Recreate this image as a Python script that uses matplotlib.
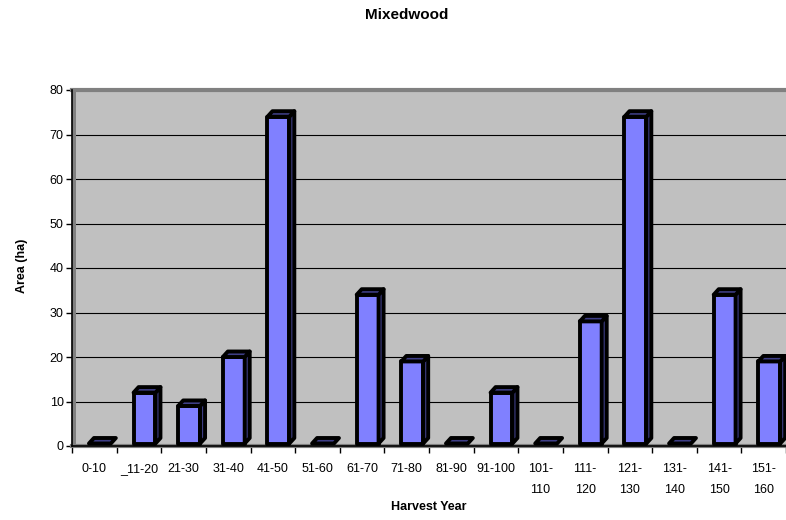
import matplotlib
matplotlib.use("Agg")
import matplotlib.pyplot as plt
from matplotlib.patches import Polygon, Rectangle

plt.rcParams.update({"font.family": ["Liberation Sans", "DejaVu Sans"]})

# ── Datos ────────────────────────────────────────────────────────────────────
clases = ["0-10", "_11-20", "21-30", "31-40", "41-50", "51-60", "61-70",
          "71-80", "81-90", "91-100", "101-\n110", "111-\n120", "121-\n130",
          "131-\n140", "141-\n150", "151-\n160"]
area_ha = [0, 12, 9, 20, 74, 0, 34, 19, 0, 12, 0, 28, 74, 0, 34, 19]

# ── Estilo tipo columna 3D ───────────────────────────────────────────────────
W, H, DPI = 786, 520, 100
X_IZQ, X_DER = 72, 786          # px
Y_SUP, Y_INF = 90, 446          # px
FRENTE = "#8080FF"
CARA = "#3E3E86"
PARED = "#C0C0C0"
BORDE = "#808080"

fig = plt.figure(figsize=(W / DPI, H / DPI), dpi=DPI)
ax = fig.add_axes([X_IZQ / W, 1 - Y_INF / H,
                   (X_DER - X_IZQ) / W, (Y_INF - Y_SUP) / H])
ax.set_facecolor(PARED)
ax.set_xlim(0, len(clases))
ax.set_ylim(0, 80)

px_x = len(clases) / (X_DER - X_IZQ)
px_y = 80 / (Y_INF - Y_SUP)
dx, dy = 5 * px_x, 5.5 * px_y     # profundidad
base = 2.5 * px_y
x_ini, ancho = 0.38, 0.49
lw = 2.8

for i, v in enumerate(area_ha):
    x0 = i + x_ini
    x1 = x0 + ancho
    top = max(v, base)
    if v > 0:
        ax.add_patch(Rectangle((x0, base), ancho, top - base, facecolor=FRENTE,
                               edgecolor="black", lw=lw, zorder=3,
                               joinstyle="round"))
        ax.add_patch(Polygon([(x1, base), (x1 + dx, base + dy),
                              (x1 + dx, top + dy), (x1, top)],
                             facecolor=CARA, edgecolor="black", lw=lw,
                             zorder=3, joinstyle="round"))
    ax.add_patch(Polygon([(x0, top), (x0 + dx, top + dy),
                          (x1 + dx, top + dy), (x1, top)],
                         facecolor=CARA, edgecolor="black", lw=lw, zorder=4,
                         joinstyle="round", clip_on=False))

# rejilla en la pared del fondo
for y in range(10, 80, 10):
    ax.axhline(y, color="black", lw=0.8, zorder=1)

# bordes de pared lateral, techo y piso
ax.add_patch(Rectangle((0, 0), 4 / (X_DER - X_IZQ), 1, transform=ax.transAxes,
                       facecolor=BORDE, edgecolor="none", zorder=2,
                       clip_on=False))
ax.axhline(80, color=BORDE, lw=3, zorder=2, clip_on=False)
ax.axhline(0, color=BORDE, lw=3, zorder=2, clip_on=False)

for lado in ("top", "right"):
    ax.spines[lado].set_visible(False)
for lado in ("left", "bottom"):
    ax.spines[lado].set_color("black")
    ax.spines[lado].set_linewidth(1.2)
    ax.spines[lado].set_zorder(5)

ax.set_yticks(range(0, 81, 10))
ax.tick_params(axis="y", direction="out", length=4, width=1, labelsize=9,
               pad=2)
ax.set_xticks(range(len(clases) + 1))
ax.set_xticklabels([])
ax.set_xticks([i + 0.5 for i in range(len(clases))], minor=True)
ax.set_xticklabels(clases, minor=True, fontsize=9, linespacing=2.0,
                   va="top")
ax.tick_params(axis="x", which="major", direction="out", length=5, width=1)
ax.tick_params(axis="x", which="minor", length=0, pad=12)

fig.text((X_IZQ + X_DER) / 2 / W, 1 - 507 / H, "Harvest Year", fontsize=9,
         fontweight="bold", ha="center", va="center")
fig.text(22 / W, 1 - 266 / H, "Area (ha)", fontsize=9, fontweight="bold",
         rotation=90, ha="center", va="center")
fig.text(407 / W, 1 - 15 / H, "Mixedwood", fontsize=11, fontweight="bold",
         ha="center", va="center")

fig.savefig("out.png", dpi=DPI)
